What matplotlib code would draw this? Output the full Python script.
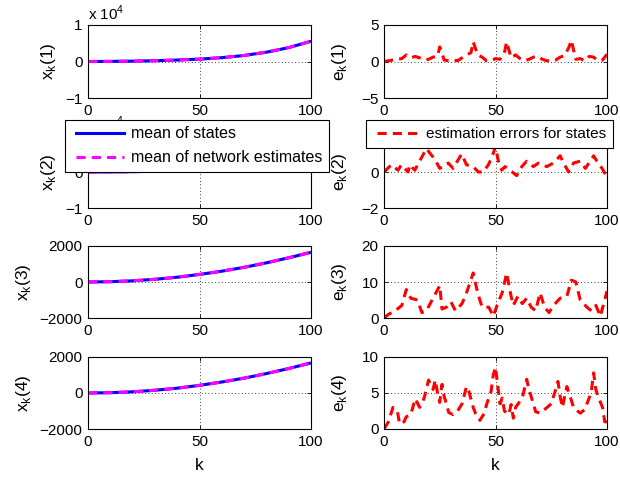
import matplotlib
matplotlib.use("Agg")
import matplotlib.pyplot as plt
from matplotlib.lines import Line2D
from matplotlib.legend_handler import HandlerLine2D

plt.rcParams['font.family'] = ['Liberation Sans', 'DejaVu Sans']
plt.rcParams['mathtext.fontset'] = 'custom'
plt.rcParams['mathtext.rm'] = 'Liberation Sans'
plt.rcParams['font.size'] = 11

# ---- state means (read at k = 0,10,...,100) ----
k_state = [0, 10, 20, 30, 40, 50, 60, 70, 80, 90, 100]
x1 = [0, 30, 100, 220, 400, 650, 1050, 1650, 2550, 3800, 5550]
x2 = [0, 30, 100, 210, 380, 620, 1000, 1600, 2450, 3700, 5400]
x3 = [0, 17, 66, 150, 265, 420, 600, 815, 1065, 1345, 1650]
x4 = [0, 17, 67, 152, 268, 425, 610, 825, 1080, 1360, 1670]

# ---- estimation errors ----
k_e1 = [0, 2, 4, 6, 8, 10, 12, 14, 16, 18, 20, 22, 24, 25, 27, 29, 31, 33, 35, 37, 39, 40, 42, 44, 46, 48,
        50, 52, 54, 55, 57, 59, 61, 63, 65, 67, 69, 71, 73, 75, 77, 79, 81, 83, 84, 86, 88, 90, 92, 94, 96, 98, 100]
e1 = [0, 0.1, 0.2, 0.3, 0.4, 0.9, 0.5, 0.7, 0.5, 0.2, 0.3, 0.6, 0.7, 2.0, 0.2, 0.1, 0.2, 0.1, 0.5, 0.9, 1.2, 2.7, 0.9, 0.6, 0.1, 0.1,
      0.4, 0.3, 1.2, 2.7, 0.5, 0.9, 0.4, 0.1, 0.3, 0.6, 0.7, 0.3, 0.1, 0.1, 0.2, 0.6, 0.8, 2.0, 2.9, 0.3, 0.4, 0.1, 0.7, 0.6, 0.1, 0.2, 1.0]

k_e2 = [0, 3.3, 6.3, 7.8, 10.8, 11.5, 13.8, 19, 22.8, 25, 28.8, 31, 34.8, 37, 40, 42.3, 44.5, 46.8, 48.3, 50,
        51.3, 52.8, 54.3, 56.5, 59.5, 61.8, 64, 67, 69.3, 73, 76, 79, 80.5, 82.8, 85, 88, 90.3, 94, 95.5, 97.8, 100]
e2 = [0, 0.4, 0.1, 0.4, 0.0, 0.4, 0.1, 1.3, 0.7, 0.2, 0.5, 0.2, 1.0, 0.4, 0.3, 0.0, 0.0, 0.4, 0.8, 1.4,
      0.6, 0.1, 0.3, 0.1, -0.2, 0.3, 0.6, 0.3, 0.5, 0.3, 0.5, 0.9, 0.5, 0.0, 0.5, 0.6, 0.2, 0.9, 0.6, 0.2, -0.3]

k_e3 = [0, 2, 5, 8, 10, 12, 15, 17, 19, 22, 25, 26, 28, 30, 32, 35, 37, 40, 42, 44, 47, 49, 51, 53, 55, 57, 58,
        60, 62, 64, 66, 68, 70, 72, 74, 76, 79, 82, 84, 86, 88, 91, 93, 95, 97, 99, 100]
e3 = [0, 1, 2, 3.5, 7.9, 5.5, 5, 1.5, 2, 5.5, 9, 2.5, 3, 4.5, 2, 4, 7, 12.5, 7, 3, 3, 0.5, 4, 7, 12.5, 6, 3.5,
      6, 4, 5.5, 3, 2, 7, 3, 1.5, 3.5, 5.5, 6, 10.5, 10, 5, 3, 2, 3.5, 0.5, 5, 7.5]

k_e4 = [0, 2, 4, 6, 7, 9, 10, 12, 14, 16, 17, 18, 20, 22, 23, 24, 25, 26, 27, 28, 29, 31, 33, 35, 37, 38, 40,
        41, 42, 43, 45, 46, 48, 49, 50, 51, 52, 53, 54, 56, 57, 58, 59, 62, 64, 65, 67, 68, 70, 72, 75, 77, 78,
        79, 80, 81, 82, 84, 85, 86, 88, 90, 92, 93, 94, 95, 96, 98, 99, 100]
e4 = [0, 1, 3, 2.5, 0.7, 1, 1.7, 2, 4.2, 3, 3.5, 4.3, 6.8, 5.5, 6.8, 5, 3.7, 6.2, 4.5, 3.5, 2.3, 2, 2.5, 3.5, 5.9, 5.3, 3,
      2.2, 1.8, 1.2, 2.2, 3.4, 5.2, 7.5, 8.6, 6, 3.5, 4.3, 2.5, 2, 3.4, 1.5, 3, 4.3, 6.9, 5.5, 3.5, 2.4, 2.2, 2.7, 3.5, 5.5, 6.6,
      4.5, 3, 4.5, 5.9, 4, 3, 2.7, 2.2, 2.7, 4.3, 5.3, 7.8, 5.5, 4.5, 3, 1, 1.0]

states = [x1, x2, x3, x4]
errs = [(k_e1, e1), (k_e2, e2), (k_e3, e3), (k_e4, e4)]
state_ylims = [(-1e4, 1e4), (-1e4, 1e4), (-2000, 2000), (-2000, 2000)]
state_yticks = [[-1e4, 0, 1e4], [-1e4, 0, 1e4], [-2000, 0, 2000], [-2000, 0, 2000]]
state_yticklabels = [['\u22121', '0', '1'], ['\u22121', '0', '1'], ['\u22122000', '0', '2000'], ['\u22122000', '0', '2000']]
err_ylims = [(-5, 5), (-2, 2), (0, 20), (0, 10)]
err_yticks = [[-5, 0, 5], [-2, 0, 2], [0, 10, 20], [0, 5, 10]]
err_yticklabels = [['\u22125', '0', '5'], ['\u22122', '0', '2'], ['0', '10', '20'], ['0', '5', '10']]

fig = plt.figure(figsize=(6.2, 4.8), dpi=100)
W, H = 620, 480
rows = [(25, 98), (136, 208), (246, 318), (357, 429)]
cols = [(88, 311), (384, 607)]
LABEL_FS = 12.5


def style(ax):
    ax.set_xlim(0, 100)
    ax.set_xticks([0, 50, 100])
    ax.grid(True, color='black', linestyle=(0, (1, 3)), linewidth=0.6)
    ax.tick_params(direction='in', length=3, width=0.6, top=True, right=True, pad=4, labelsize=11)
    for s in ax.spines.values():
        s.set_linewidth(0.8)


for i in range(4):
    t, b = rows[i]
    # left state plot
    l, r = cols[0]
    ax = fig.add_axes([l / W, 1 - b / H, (r - l) / W, (b - t) / H])
    ax.plot(k_state, states[i], color='blue', linewidth=2.2, solid_capstyle='butt')
    ax.plot(k_state, states[i], color='magenta', linewidth=2.2, linestyle=(0, (3, 2)))
    style(ax)
    ax.set_ylim(*state_ylims[i])
    ax.set_yticks(state_yticks[i])
    ax.set_yticklabels(state_yticklabels[i])
    ax.set_ylabel(r'x$_\mathregular{k}$(%d)' % (i + 1), fontsize=LABEL_FS, labelpad=5)
    if i < 2:
        ax.text(0, 1.03, r'x 10$^\mathregular{4}$', transform=ax.transAxes, ha='left', va='bottom', fontsize=11)
    if i == 3:
        ax.set_xlabel('k', fontsize=LABEL_FS, labelpad=7)

    # right error plot
    l, r = cols[1]
    ax2 = fig.add_axes([l / W, 1 - b / H, (r - l) / W, (b - t) / H])
    ke, ev = errs[i]
    ax2.plot(ke, ev, color='red', linewidth=2.2, linestyle=(0, (3, 2)))
    style(ax2)
    ax2.set_ylim(*err_ylims[i])
    ax2.set_yticks(err_yticks[i])
    ax2.set_yticklabels(err_yticklabels[i])
    ax2.set_ylabel(r'e$_\mathregular{k}$(%d)' % (i + 1), fontsize=LABEL_FS, labelpad=9)
    if i == 3:
        ax2.set_xlabel('k', fontsize=LABEL_FS, labelpad=7)

h1 = Line2D([], [], color='blue', linewidth=2.2)
h2 = Line2D([], [], color='magenta', linewidth=2.2, linestyle=(0, (3, 2)))
h3 = Line2D([], [], color='red', linewidth=2.2, linestyle=(0, (3, 2)))
hmap = {h1: HandlerLine2D(xpad=0.3), h2: HandlerLine2D(xpad=0.3), h3: HandlerLine2D(xpad=0.3)}

leg1 = fig.legend([h1, h2], ['mean of states', 'mean of network estimates'],
                  loc='upper left', bbox_to_anchor=(65 / W, 1 - 120 / H), borderaxespad=0,
                  fancybox=False, framealpha=1, edgecolor='black', fontsize=11.5,
                  handlelength=3.3, handletextpad=0.45, borderpad=0.4, labelspacing=0.55,
                  handler_map=hmap)
leg1.get_frame().set_linewidth(0.8)
leg2 = fig.legend([h3], ['estimation errors for states'],
                  loc='upper left', bbox_to_anchor=(366 / W, 1 - 120 / H), borderaxespad=0,
                  fancybox=False, framealpha=1, edgecolor='black', fontsize=11,
                  handlelength=3.1, handletextpad=0.4, borderpad=0.45,
                  handler_map=hmap)
leg2.get_frame().set_linewidth(0.8)

fig.savefig('out.png', dpi=100)
